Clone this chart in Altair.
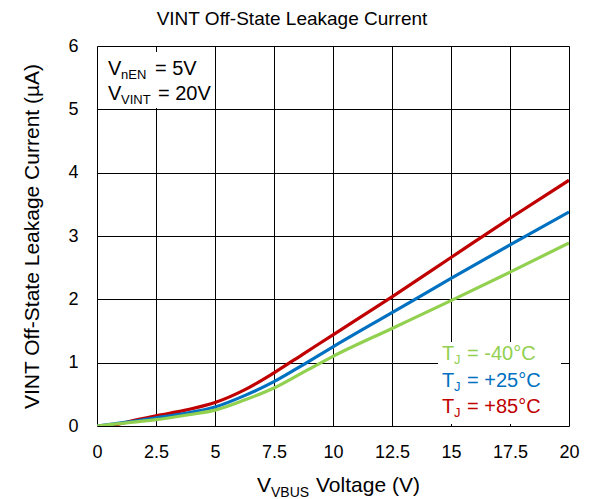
import altair as alt
import pandas as pd

# ---- data ----
vbus = [0, 1.25, 2.5, 3.75, 5, 6.25, 7.5, 8.75, 10, 12.5, 15, 17.5, 20]
i_m40 = [0, 0.05, 0.10, 0.17, 0.25, 0.41, 0.60, 0.85, 1.10, 1.54, 1.98, 2.43, 2.89]
i_p25 = [0, 0.06, 0.13, 0.20, 0.30, 0.48, 0.70, 0.97, 1.25, 1.79, 2.33, 2.86, 3.38]
vbus_red = [0.6, 1.25, 2.5, 3.75, 5, 6.25, 7.5, 8.75, 10, 12.5, 15, 17.5, 20]
i_p85 = [0, 0.06, 0.16, 0.25, 0.37, 0.57, 0.84, 1.14, 1.44, 2.04, 2.66, 3.28, 3.88]

x_ticks = [0, 2.5, 5, 7.5, 10, 12.5, 15, 17.5, 20]
y_ticks = [0, 1, 2, 3, 4, 5, 6]

GREEN, BLUE, RED = "#92D050", "#0070C0", "#C00000"
FONT = "Liberation Sans"

rows = []
for x, y in zip(vbus_red, i_p85):
    rows.append({"v": x, "i": y, "s": "+85"})
for x, y in zip(vbus, i_p25):
    rows.append({"v": x, "i": y, "s": "+25"})
for x, y in zip(vbus, i_m40):
    rows.append({"v": x, "i": y, "s": "-40"})
df = pd.DataFrame(rows)

W, H = 472, 380

xs = alt.X("v:Q", scale=alt.Scale(domain=[0, 20], nice=False),
           axis=alt.Axis(values=x_ticks, format=".1~f", title=None, ticks=False,
                         domain=False, labelFontSize=18, labelPadding=17,
                         labelFlush=False, labelOverlap=False,
                         labelFont=FONT, labelColor="black",
                         gridColor="black", gridWidth=1, gridOpacity=1))
ys = alt.Y("i:Q", scale=alt.Scale(domain=[0, 6], nice=False),
           axis=alt.Axis(values=y_ticks, title="VINT Off-State Leakage Current (µA)",
                         ticks=False, domain=False, labelFontSize=18, labelPadding=19,
                         labelFlush=False, labelOverlap=False,
                         labelFont=FONT, labelColor="black",
                         titleFont=FONT, titleFontSize=21, titleFontWeight="normal",
                         titleColor="black", titlePadding=25,
                         gridColor="black", gridWidth=1, gridOpacity=1))

base = alt.Chart(df)
lines = []
for s, c in [("+85", RED), ("+25", BLUE), ("-40", GREEN)]:
    lines.append(
        base.transform_filter(alt.datum.s == s)
        .mark_line(color=c, strokeWidth=3.2, interpolate="monotone", clip=True)
        .encode(x=xs, y=ys)
    )

one = pd.DataFrame({"k": [0]})


def txt(t, x, y, size, color="black", align="left"):
    return alt.Chart(one).mark_text(
        text=t, font=FONT, fontSize=size, color=color, align=align,
        baseline="alphabetic", clip=False
    ).encode(x=alt.value(x), y=alt.value(y))


def box(x1, x2, y1, y2):
    return alt.Chart(one).mark_rect(color="white").encode(
        x=alt.value(x1), x2=alt.value(x2), y=alt.value(y1), y2=alt.value(y2))


layers = [box(1, 118, 6, 62), box(341, 464, 296, 378)] + lines

# top-left annotation
layers += [
    txt("V", 11, 29, 20), txt("nEN", 24, 33, 13), txt("= 5V", 58, 29, 20),
    txt("V", 11, 54, 20), txt("VINT", 24, 58, 13), txt("= 20V", 61, 54, 20),
]
# legend text
for t, col, yb in [("= -40°C", GREEN, 314), ("= +25°C", BLUE, 341), ("= +85°C", RED, 367)]:
    layers += [txt("T", 345, yb, 20, col), txt("J", 357, yb + 4, 13, col), txt(t, 370, yb, 20, col)]

# chart title
layers += [txt("VINT Off-State Leakage Current", 195, -21, 19, align="center")]
# x-axis title with subscript
layers += [txt("V", 160, 446, 21), txt("VBUS", 174, 451, 14), txt("Voltage (V)", 219, 446, 21)]

chart = alt.layer(*layers).properties(
    width=W, height=H,
    autosize=alt.AutoSizeParams(type="none"),
    padding={"left": 89, "top": 38, "right": 15, "bottom": 75},
).configure_view(stroke="black", strokeWidth=2).configure(background="white")

chart.save("out.html", embed_options={"renderer": "svg", "actions": False})
